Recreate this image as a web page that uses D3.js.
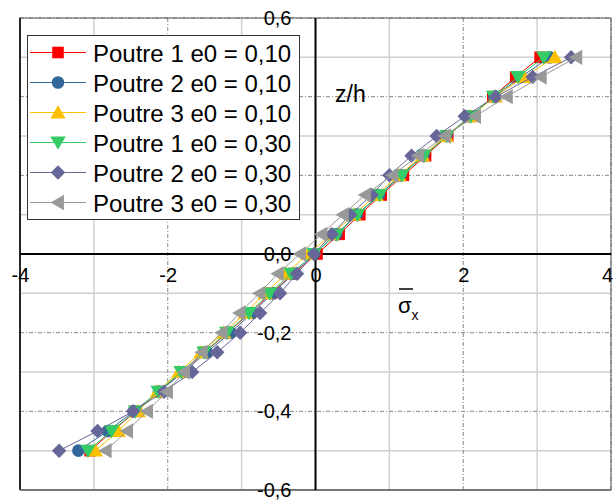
<!DOCTYPE html>
<html>
<head>
<meta charset="utf-8">
<script src="https://cdn.jsdelivr.net/npm/d3@7"></script>
<style>
  html, body { margin: 0; padding: 0; background: #fff; }
  svg { display: block; }
  text { font-family: "Liberation Sans", Arial, sans-serif; }
</style>
</head>
<body>
<svg id="chart" width="613" height="502"></svg>
<script>
// ---- data ----
const zValues = [-0.5, -0.45, -0.4, -0.35, -0.3, -0.25, -0.2, -0.15, -0.1, -0.05, 0,
                 0.05, 0.1, 0.15, 0.2, 0.25, 0.3, 0.35, 0.4, 0.45, 0.5];

const poutre1e010 = [-3.05, -2.75, -2.43, -2.12, -1.81, -1.50, -1.19, -0.89, -0.60, -0.30, 0.02,
                     0.32, 0.60, 0.89, 1.19, 1.49, 1.79, 2.10, 2.40, 2.71, 3.04];
const poutre2e010 = [-3.21, -2.81, -2.46, -2.12, -1.79, -1.47, -1.15, -0.86, -0.58, -0.30, -0.02,
                     0.28, 0.56, 0.86, 1.15, 1.46, 1.77, 2.09, 2.42, 2.78, 3.17];
const poutre3e010 = [-2.98, -2.67, -2.40, -2.14, -1.85, -1.55, -1.24, -0.95, -0.68, -0.40, -0.10,
                     0.22, 0.52, 0.82, 1.13, 1.45, 1.77, 2.10, 2.43, 2.82, 3.24];
const poutre1e030 = [-3.08, -2.76, -2.44, -2.13, -1.82, -1.51, -1.20, -0.90, -0.62, -0.33, -0.02,
                     0.29, 0.57, 0.87, 1.17, 1.47, 1.78, 2.10, 2.41, 2.74, 3.09];
const poutre2e030 = [-3.47, -2.95, -2.47, -2.05, -1.67, -1.33, -1.02, -0.75, -0.48, -0.25, -0.02,
                     0.22, 0.47, 0.76, 1.00, 1.30, 1.64, 2.02, 2.44, 2.94, 3.46];
const poutre3e030 = [-2.84, -2.55, -2.28, -2.01, -1.78, -1.54, -1.27, -1.03, -0.76, -0.51, -0.21,
                     0.08, 0.37, 0.67, 1.04, 1.39, 1.75, 2.16, 2.59, 3.05, 3.53];

const seriesNames = ["Poutre 1 e0 = 0,10", "Poutre 2 e0 = 0,10", "Poutre 3 e0 = 0,10",
                     "Poutre 1 e0 = 0,30", "Poutre 2 e0 = 0,30", "Poutre 3 e0 = 0,30"];
const seriesValues = [poutre1e010, poutre2e010, poutre3e010, poutre1e030, poutre2e030, poutre3e030];

const xMajorTicks = [-4, -2, 0, 2, 4];
const xTickLabels = ["-4", "-2", "0", "2", "4"];
const xMinorTicks = [-3, -1, 1, 3];
const yMajorTicks = [-0.6, -0.4, -0.2, 0, 0.2, 0.4, 0.6];
// labels 0,2 and 0,4 are hidden behind the legend in the reference
const yLabelTicks = [-0.6, -0.4, -0.2, 0, 0.6];
const yTickLabels = ["-0,6", "-0,4", "-0,2", "0,0", "0,6"];
const yMinorTicks = [-0.5, -0.3, -0.1, 0.1, 0.3, 0.5];

// ---- styles ----
const colors = ["#FF0000", "#336699", "#FFC000", "#33CC66", "#666699", "#999999"];
const shapes = ["square", "circle", "triUp", "triDown", "diamond", "triLeft"];

function markerPath(shape, r) {
  switch (shape) {
    case "square": return `M${-r},${-r}h${2*r}v${2*r}h${-2*r}Z`;
    case "circle": return `M${r},0A${r},${r} 0 1,1 ${-r},0A${r},${r} 0 1,1 ${r},0Z`;
    case "triUp": return `M0,${-r*1.05}L${r*1.1},${r*0.85}L${-r*1.1},${r*0.85}Z`;
    case "triDown": return `M0,${r*1.05}L${r*1.1},${-r*0.85}L${-r*1.1},${-r*0.85}Z`;
    case "triLeft": return `M${-r*1.05},0L${r*0.85},${-r*1.1}L${r*0.85},${r*1.1}Z`;
    case "diamond": return `M0,${-r*1.15}L${r*1.15},0L0,${r*1.15}L${-r*1.15},0Z`;
  }
}
const markerR = [5.8, 6.3, 7, 7, 6.3, 7];

const svg = d3.select("#chart");
const pLeft = 20, pRight = 611, pTop = 18, pBottom = 490;

const x = d3.scaleLinear().domain([-4, 4]).range([pLeft, pRight]);
const y = d3.scaleLinear().domain([-0.6, 0.6]).range([pBottom, pTop]);

// grid
const grid = svg.append("g");
grid.selectAll(".vmin").data(xMinorTicks).enter().append("line")
  .attr("x1", d => x(d)).attr("x2", d => x(d)).attr("y1", pTop).attr("y2", pBottom)
  .attr("stroke", "#d0d0d0").attr("stroke-width", 1.5);
grid.selectAll(".hmin").data(yMinorTicks).enter().append("line")
  .attr("x1", pLeft).attr("x2", pRight).attr("y1", d => y(d)).attr("y2", d => y(d))
  .attr("stroke", "#d0d0d0").attr("stroke-width", 1.5);
grid.selectAll(".vmaj").data(xMajorTicks).enter().append("line")
  .attr("x1", d => x(d)).attr("x2", d => x(d)).attr("y1", pTop).attr("y2", pBottom)
  .attr("stroke", "#888").attr("stroke-width", 1).attr("stroke-dasharray", "4,2,1,2");
grid.selectAll(".hmaj").data(yMajorTicks).enter().append("line")
  .attr("x1", pLeft).attr("x2", pRight).attr("y1", d => y(d)).attr("y2", d => y(d))
  .attr("stroke", "#888").attr("stroke-width", 1).attr("stroke-dasharray", "4,2,1,2");

// frame
svg.append("rect").attr("x", pLeft).attr("y", pTop).attr("width", pRight - pLeft).attr("height", pBottom - pTop)
  .attr("fill", "none").attr("stroke", "#555").attr("stroke-width", 1);
svg.append("line").attr("x1", pLeft).attr("x2", pLeft).attr("y1", pTop).attr("y2", pBottom)
  .attr("stroke", "#000").attr("stroke-width", 1.5);
svg.append("line").attr("x1", pLeft).attr("x2", pRight).attr("y1", pBottom).attr("y2", pBottom)
  .attr("stroke", "#777").attr("stroke-width", 2);

// axes through origin
svg.append("line").attr("x1", pLeft).attr("x2", pRight).attr("y1", y(0)).attr("y2", y(0))
  .attr("stroke", "#000").attr("stroke-width", 2);
svg.append("line").attr("x1", x(0)).attr("x2", x(0)).attr("y1", pTop).attr("y2", pBottom)
  .attr("stroke", "#000").attr("stroke-width", 2);

// tick labels
const xAxis = d3.axisBottom(x).tickValues(xMajorTicks)
  .tickFormat((d, i) => xTickLabels[i]).tickSize(0).tickPadding(14);
const gx = svg.append("g").attr("transform", `translate(0,${y(0)})`).call(xAxis);
gx.select(".domain").remove();
gx.selectAll("text").attr("font-size", 20).attr("fill", "#000")
  .attr("font-family", "Liberation Sans, Arial, sans-serif");
gx.selectAll(".tick").filter(d => d === 4).select("text").attr("dx", -4);

const yAxis = d3.axisLeft(y).tickValues(yLabelTicks)
  .tickFormat((d, i) => yTickLabels[i]).tickSize(0).tickPadding(24);
const gy = svg.append("g").attr("transform", `translate(${x(0)},0)`).call(yAxis);
gy.select(".domain").remove();
gy.selectAll("text").attr("font-size", 20).attr("fill", "#000")
  .attr("font-family", "Liberation Sans, Arial, sans-serif");

// axis titles
svg.append("text").attr("x", 335).attr("y", 102).attr("font-size", 23).text("z/h");
const sig = svg.append("text").attr("x", 398).attr("y", 313).attr("font-size", 22);
sig.append("tspan").text("σ");
sig.append("tspan").attr("font-size", 14).attr("dy", 7).text("x");
svg.append("line").attr("x1", 399).attr("x2", 413).attr("y1", 289).attr("y2", 289)
  .attr("stroke", "#000").attr("stroke-width", 1.5);

// series
const lineGen = d3.line().x(d => x(d.v)).y(d => y(d.z));
seriesValues.forEach((vals, si) => {
  const pts = vals.map((v, i) => ({ v: v, z: zValues[i] }));
  const g = svg.append("g");
  g.append("path").datum(pts).attr("d", lineGen)
    .attr("fill", "none").attr("stroke", colors[si]).attr("stroke-width", 1);
  g.selectAll("path.m").data(pts).enter().append("path").attr("class", "m")
    .attr("transform", d => `translate(${x(d.v)},${y(d.z)})`)
    .attr("d", markerPath(shapes[si], markerR[si]))
    .attr("fill", colors[si]);
});

// legend
const lg = svg.append("g");
lg.append("rect").attr("x", 27.5).attr("y", 35.5).attr("width", 272).attr("height", 184)
  .attr("fill", "#fff").attr("stroke", "#333").attr("stroke-width", 1);
seriesNames.forEach((name, i) => {
  const cy = 52.5 + i * 30;
  lg.append("line").attr("x1", 30).attr("x2", 86).attr("y1", cy).attr("y2", cy)
    .attr("stroke", colors[i]).attr("stroke-width", 1);
  lg.append("path").attr("transform", `translate(58,${cy})`)
    .attr("d", markerPath(shapes[i], markerR[i])).attr("fill", colors[i]);
  lg.append("text").attr("x", 93).attr("y", cy + 9).attr("font-size", 24).attr("fill", "#000").text(name);
});
</script>
</body>
</html>
